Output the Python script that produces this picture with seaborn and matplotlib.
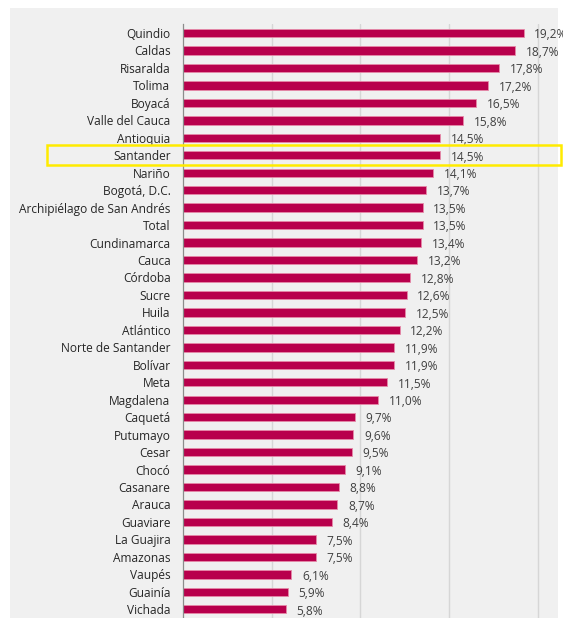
import numpy as np
import pandas as pd
import matplotlib
matplotlib.use("Agg")
import matplotlib.pyplot as plt
import matplotlib.transforms as mtransforms
from matplotlib.patches import Rectangle
import seaborn as sns

departamentos = ["Quindio", "Caldas", "Risaralda", "Tolima", "Boyacá", "Valle del Cauca",
                 "Antioquia", "Santander", "Nariño", "Bogotá, D.C.",
                 "Archipiélago de San Andrés", "Total", "Cundinamarca", "Cauca", "Córdoba",
                 "Sucre", "Huila", "Atlántico", "Norte de Santander", "Bolívar", "Meta",
                 "Magdalena", "Caquetá", "Putumayo", "Cesar", "Chocó", "Casanare", "Arauca",
                 "Guaviare", "La Guajira", "Amazonas", "Vaupés", "Guainía", "Vichada"]
valores = [19.2, 18.7, 17.8, 17.2, 16.5, 15.8, 14.5, 14.5, 14.1, 13.7,
           13.5, 13.5, 13.4, 13.2, 12.8, 12.6, 12.5, 12.2, 11.9, 11.9, 11.5,
           11.0, 9.7, 9.6, 9.5, 9.1, 8.8, 8.7, 8.4, 7.5, 7.5, 6.1, 5.9, 5.8]
resaltado = "Santander"

sns.set_style("white")
plt.rcParams['font.family'] = ['Open Sans', 'DejaVu Sans']

df = pd.DataFrame({"dep": departamentos, "val": valores})

fig = plt.figure(figsize=(5.63, 6.18), dpi=100)
fondo = Rectangle((10 / 563, 0), 548 / 563, 1 - 8 / 618, transform=fig.transFigure,
                  facecolor="#f0f0f0", edgecolor="none", zorder=-10)
fig.add_artist(fondo)
ax = fig.add_axes([183 / 563, 0.0, 375 / 563, 1 - 24.3 / 618])
ax.set_facecolor("#f0f0f0")

sns.barplot(data=df, x="val", y="dep", color="#b8004c", width=0.48,
            edgecolor="#e58aa8", linewidth=0.6, saturation=1, ax=ax)

ax.set_xlim(0, 21.13)
ax.set_ylim(33.46, -0.5)
ax.set_xticks([5, 10, 15, 20])
ax.xaxis.grid(True, color="#d6d6d6", linewidth=1)
ax.set_axisbelow(True)
ax.set_xticklabels([])
ax.tick_params(axis="x", length=0)
ax.set_xlabel("")
ax.set_ylabel("")
for s in ["top", "right", "bottom"]:
    ax.spines[s].set_visible(False)
ax.spines["left"].set_color("#8c8c8c")
ax.spines["left"].set_linewidth(0.9)

ax.tick_params(axis="y", which="major", length=0, pad=9, labelsize=8.6, labelcolor="#262626")
ax.set_yticks(np.arange(len(departamentos) + 1) - 0.5, minor=True)
ax.tick_params(axis="y", which="minor", length=4, color="#8c8c8c", width=0.8)

for i, v in enumerate(valores):
    ax.text(v + 0.6, i + 0.1, f"{v:.1f}%".replace(".", ","), va="center", ha="left",
            fontsize=8.6, color="#404040", clip_on=False)

# recuadro amarillo
k = departamentos.index(resaltado)
trans = mtransforms.blended_transform_factory(fig.transFigure, ax.transData)
ax.add_patch(Rectangle((47 / 563, k - 0.6), 514 / 563, 1.15, transform=trans,
                       fill=False, edgecolor="#ffeb00", linewidth=1.8, clip_on=False, zorder=5))

fig.savefig("out.png", dpi=100)
